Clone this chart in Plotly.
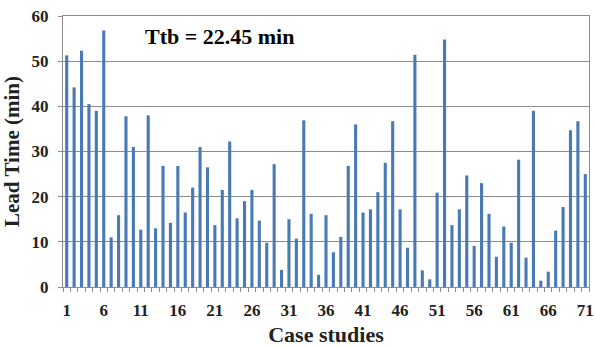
import plotly.graph_objects as go

cases = list(range(1, 72))
lead_time = [51.3, 44.2, 52.3, 40.5, 39.0, 56.8, 11.0, 15.9, 37.8, 31.0,
             12.7, 38.0, 13.0, 26.8, 14.2, 26.8, 16.5, 22.0, 31.0, 26.5,
             13.7, 21.5, 32.2, 15.2, 19.0, 21.5, 14.7, 9.8, 27.2, 3.8,
             15.0, 10.7, 36.9, 16.2, 2.7, 15.9, 7.7, 11.1, 26.8, 36.0,
             16.5, 17.2, 21.0, 27.5, 36.7, 17.2, 8.7, 51.4, 3.7, 1.7,
             20.9, 54.8, 13.7, 17.2, 24.7, 9.1, 23.0, 16.2, 6.7, 13.4,
             9.8, 28.2, 6.5, 39.0, 1.4, 3.4, 12.5, 17.7, 34.7, 36.7, 25.0]
x_ticks = list(range(1, 72, 5))
y_ticks = [0, 10, 20, 30, 40, 50, 60]
note = "Ttb = 22.45 min"

serif = "Liberation Serif, Times New Roman, serif"

fig = go.Figure(go.Bar(x=cases, y=lead_time, marker_color="#4a7ab5",
                       marker_line_width=0, width=0.42))

fig.update_layout(
    width=595, height=347,
    margin=dict(l=63, r=6, t=16, b=60),
    paper_bgcolor="white", plot_bgcolor="white",
    showlegend=False,
    font=dict(family=serif, color="#222222"),
    annotations=[dict(text="<b>" + note + "</b>", x=(143 - 63) / 526, y=(287 - 37) / 271,
                      xref="paper", yref="paper", xanchor="left", yanchor="middle",
                      showarrow=False, font=dict(size=22, family=serif, color="black"))],
)
fig.update_xaxes(
    range=[0.5, 71.5], tickvals=x_ticks, ticktext=[f"<b>{v}</b>" for v in x_ticks],
    tickfont=dict(size=17, family=serif, color="#222222"),
    ticks="", showgrid=False, zeroline=False, ticklabeloverflow="allow",
    ticklabelstandoff=8, automargin=False,
    showline=True, linecolor="#8c8c8c", linewidth=1, mirror=True,
    minor=dict(tick0=0.5, dtick=1, ticks="outside", ticklen=4, tickcolor="#8c8c8c", showgrid=False),
    title=dict(text="<b>Case studies</b>", font=dict(size=22, family=serif, color="#222222"), standoff=10),
)
fig.update_yaxes(
    range=[0, 60], tickvals=y_ticks, ticktext=[f"<b>{v}</b>" for v in y_ticks],
    tickfont=dict(size=17, family=serif, color="#222222"),
    ticks="outside", ticklen=4, tickcolor="#8c8c8c", ticklabelstandoff=6,
    automargin=False,
    showgrid=True, gridcolor="#8c8c8c", gridwidth=1, zeroline=False,
    showline=True, linecolor="#8c8c8c", linewidth=1, mirror=True,
    title=dict(text="<b>Lead Time (min)</b>", font=dict(size=21, family=serif, color="#222222"), standoff=6),
)

fig.write_html("out.html")
